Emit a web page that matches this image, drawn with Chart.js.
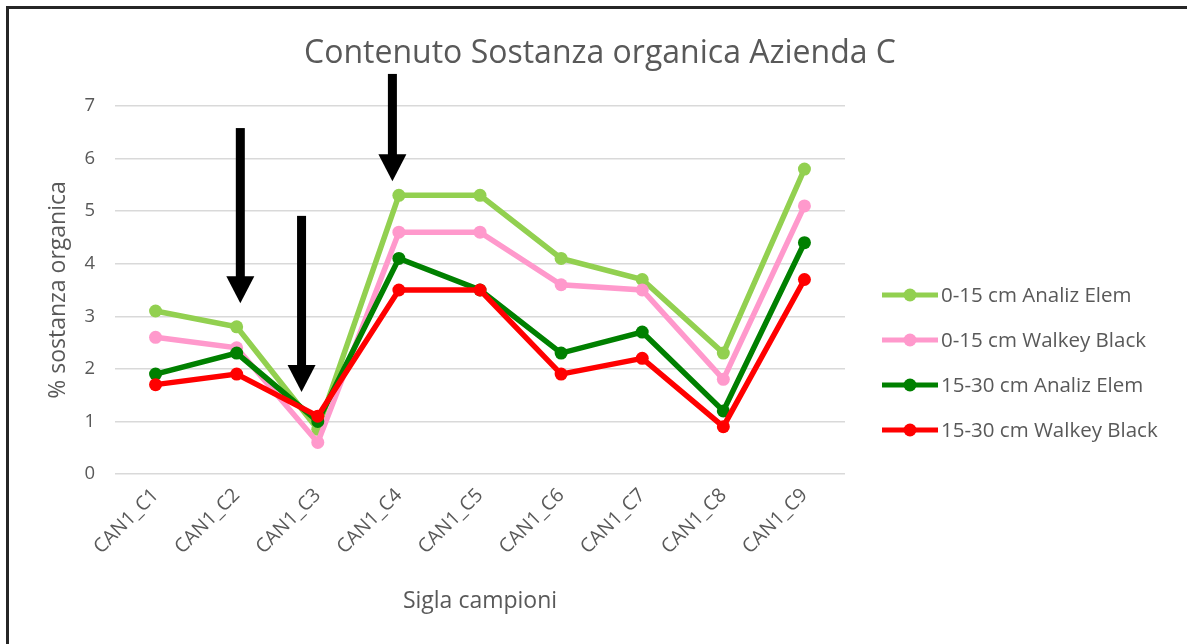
<!DOCTYPE html>
<html>
<head>
<meta charset="utf-8">
<script src="https://cdn.jsdelivr.net/npm/chart.js@4.4.1/dist/chart.umd.min.js"></script>
<style>
  html, body { margin: 0; padding: 0; background: #fff; }
  #wrap { width: 1187px; height: 644px; position: relative; }
</style>
</head>
<body>
<div id="wrap"><canvas id="chartSostanza"></canvas></div>
<script>
// dati
var campioni = ["CAN1_C1", "CAN1_C2", "CAN1_C3", "CAN1_C4", "CAN1_C5", "CAN1_C6", "CAN1_C7", "CAN1_C8", "CAN1_C9"];
var analiz0_15 = [3.1, 2.8, 0.85, 5.3, 5.3, 4.1, 3.7, 2.3, 5.8];
var walkey0_15 = [2.6, 2.4, 0.6, 4.6, 4.6, 3.6, 3.5, 1.8, 5.1];
var analiz15_30 = [1.9, 2.3, 1.0, 4.1, 3.5, 2.3, 2.7, 1.2, 4.4];
var walkey15_30 = [1.7, 1.9, 1.1, 3.5, 3.5, 1.9, 2.2, 0.9, 3.7];
var yMin = 0, yMax = 7, yStep = 1;

// frecce di annotazione (posizione in unita' di categoria / valore)
var arrowX = [1.045, 1.8, 2.92];
var arrowTop = [6.58, 4.91, 7.61];
var arrowTip = [3.25, 1.56, 5.57];

var grigio = "#595959";
var font = "'Open Sans', 'Noto Sans', sans-serif";

function serie(label, data, color, order) {
  return {
    label: label,
    data: data,
    borderColor: color,
    backgroundColor: color,
    pointBackgroundColor: color,
    pointBorderColor: color,
    borderWidth: 5.5,
    pointRadius: 6.5,
    pointBorderWidth: 0,
    tension: 0,
    order: order
  };
}

// sfondo bianco e cornice
var cornicePlugin = {
  id: "cornice",
  beforeDraw: function (chart) {
    var ctx = chart.ctx;
    ctx.save();
    ctx.fillStyle = "#ffffff";
    ctx.fillRect(0, 0, chart.width, chart.height);
    ctx.fillStyle = "#262626";
    ctx.fillRect(6, 6, chart.width - 6, 3);
    ctx.fillRect(6, 6, 3, chart.height - 6);
    ctx.restore();
  }
};

// legenda con linea e punto, come in Excel
var legendaPlugin = {
  id: "legendaLinee",
  afterDraw: function (chart) {
    var ctx = chart.ctx;
    var area = chart.chartArea;
    var x0 = area.right + 37;
    var y0 = area.top + 189;
    ctx.save();
    ctx.font = "20.5px " + font;
    ctx.textBaseline = "middle";
    ctx.textAlign = "left";
    chart.data.datasets.forEach(function (ds, i) {
      var y = y0 + i * 45;
      ctx.strokeStyle = ds.borderColor;
      ctx.lineWidth = 5;
      ctx.beginPath();
      ctx.moveTo(x0, y);
      ctx.lineTo(x0 + 56, y);
      ctx.stroke();
      ctx.fillStyle = ds.borderColor;
      ctx.beginPath();
      ctx.arc(x0 + 28, y, 6.5, 0, Math.PI * 2);
      ctx.fill();
      ctx.fillStyle = grigio;
      ctx.fillText(ds.label, x0 + 59, y + 1);
    });
    ctx.restore();
  }
};

// frecce nere
var freccePlugin = {
  id: "frecce",
  afterDraw: function (chart) {
    var ctx = chart.ctx;
    var xs = chart.scales.x, ys = chart.scales.y;
    var passo = xs.getPixelForValue(1) - xs.getPixelForValue(0);
    ctx.save();
    ctx.fillStyle = "#000000";
    for (var i = 0; i < arrowX.length; i++) {
      var x = xs.getPixelForValue(0) + arrowX[i] * passo;
      var top = ys.getPixelForValue(arrowTop[i]);
      var tip = ys.getPixelForValue(arrowTip[i]);
      var testa = 27;
      ctx.fillRect(x - 4.5, top, 9, tip - top - testa + 1);
      ctx.beginPath();
      ctx.moveTo(x - 14, tip - testa);
      ctx.lineTo(x + 14, tip - testa);
      ctx.lineTo(x, tip);
      ctx.closePath();
      ctx.fill();
    }
    ctx.restore();
  }
};

var ctx = document.getElementById("chartSostanza").getContext("2d");

var config = {
  type: "line",
  data: {
    labels: campioni,
    datasets: [
      serie("0-15 cm Analiz Elem", analiz0_15, "#92D050", 4),
      serie("0-15 cm Walkey Black", walkey0_15, "#FF99CC", 3),
      serie("15-30 cm Analiz Elem", analiz15_30, "#008000", 2),
      serie("15-30 cm Walkey Black", walkey15_30, "#FF0000", 1)
    ]
  },
  options: {
    responsive: true,
    maintainAspectRatio: false,
    animation: false,
    layout: {
      padding: { left: 13, right: 0, top: 0, bottom: 0 }
    },
    scales: {
      x: {
        offset: true,
        grid: { display: false, drawTicks: false },
        border: { display: false },
        ticks: {
          color: grigio,
          font: { family: font, size: 19.5 },
          minRotation: 45,
          maxRotation: 45,
          padding: 10,
          autoSkip: false
        },
        title: {
          display: true,
          text: "Sigla campioni",
          color: grigio,
          font: { family: font, size: 23 },
          padding: { top: 0, bottom: 29.2 }
        },
        afterFit: function (scale) {
          scale.height = 170;
        }
      },
      y: {
        min: yMin,
        max: yMax,
        grid: { color: "#d9d9d9", lineWidth: 1.5, drawTicks: false },
        border: { display: false },
        ticks: {
          stepSize: yStep,
          color: grigio,
          font: { family: font, size: 18.5 },
          padding: 20
        },
        title: {
          display: true,
          text: "% sostanza organica",
          color: grigio,
          font: { family: font, size: 23 },
          padding: { top: 31.2, bottom: 0 }
        },
        afterFit: function (scale) {
          scale.width = 102;
        }
      },
      // spazio vuoto a destra per la legenda
      destra: {
        type: "linear",
        position: "right",
        grid: { display: false, drawTicks: false },
        border: { display: false },
        ticks: { display: false },
        afterFit: function (scale) {
          scale.width = 342;
        }
      }
    },
    plugins: {
      legend: { display: false },
      tooltip: { enabled: false },
      title: {
        display: true,
        text: "Contenuto Sostanza organica Azienda C",
        color: grigio,
        font: { family: font, size: 32, weight: "normal" },
        padding: { top: 34.8, bottom: 32.8 }
      }
    }
  },
  plugins: [cornicePlugin, legendaPlugin, freccePlugin]
};

var myChart = new Chart(ctx, config);
</script>
</body>
</html>
